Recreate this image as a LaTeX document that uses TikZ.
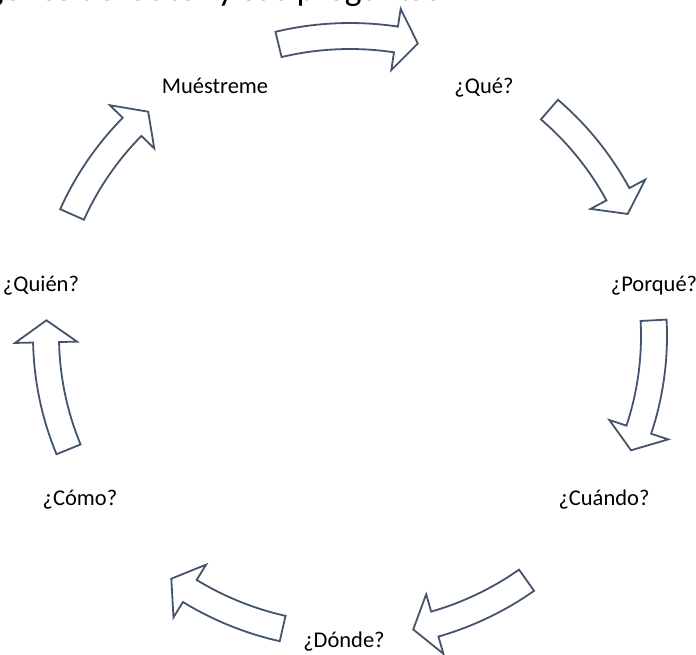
\documentclass[tikz,border=0pt]{standalone}
\usepackage{fontspec}
\setmainfont{Carlito}
\definecolor{slategrey}{RGB}{68,84,106}

% curved block arrow on the cycle: #1 tail angle, #2 tip angle
\newcommand{\cyclearrow}[2]{%
  \pgfmathsetmacro{\hb}{#2+4.2}%
  \draw[blockarrow] (#1:317 and 313) arc[start angle=#1,end angle=\hb,x radius=317,y radius=313]
    -- (\hb:335 and 331) -- (#2:304 and 300) -- (\hb:273 and 269)
    -- (\hb:291 and 287) arc[start angle=\hb,end angle=#1,x radius=291,y radius=287] -- cycle;}

\begin{document}
\begin{tikzpicture}[x=1pt,y=1pt]
  \tikzstyle{lbl}=[inner sep=0pt,anchor=base,text=black,font=\fontsize{22.5}{27}\selectfont]
  \tikzstyle{blockarrow}=[draw=slategrey,line width=1.8pt,fill=white,line join=miter]
  \useasboundingbox (-350,-318) rectangle (346,336);

  % -- caption line, cut by the top edge --
  \begin{scope}
    \clip (-350,-318) rectangle (346,336);
    \node[lbl,anchor=base east,font=\fontsize{35.5}{42}\selectfont] (caption) at (91,335) {Imágenes del autor y sus preguntas};
  \end{scope}

  % -- labels round the cycle --
  \node[lbl] (muestreme) at (-135,243) {Muéstreme};
  \node[lbl] (que)       at (134,243)  {¿Qué?};
  \node[lbl] (porque)    at (304,45)   {¿Porqué?};
  \node[lbl] (quien)     at (-309,45)  {¿Quién?};
  \node[lbl] (cuando)    at (254,-169) {¿Cuándo?};
  \node[lbl] (como)      at (-270,-169) {¿Cómo?};
  \node[lbl] (donde)     at (-6,-311)  {¿Dónde?};

  % -- block arrows, clockwise --
  \cyclearrow{103.6}{77.1}
  \cyclearrow{49.0}{24.0}
  \cyclearrow{3.0}{-22.4}
  \cyclearrow{-54.5}{-78.0}
  \cyclearrow{-102.8}{-126.0}
  \cyclearrow{-157.8}{-183.0}
  \cyclearrow{156.1}{131.6}
\end{tikzpicture}
\end{document}
